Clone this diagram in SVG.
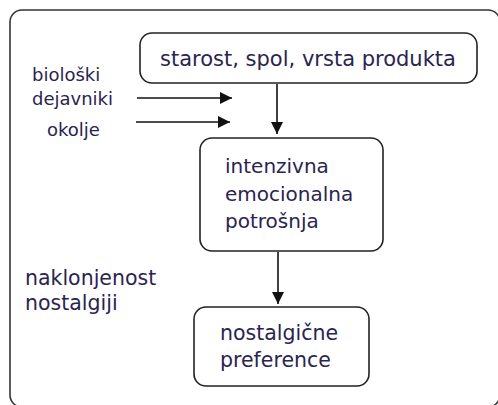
<svg xmlns="http://www.w3.org/2000/svg" width="498" height="405" viewBox="0 0 498 405">
  <defs>
    <marker id="arrow" viewBox="0 0 10 10" refX="10" refY="5" markerWidth="12" markerHeight="12" markerUnits="userSpaceOnUse" orient="auto">
      <path d="M0,0 L10,5 L0,10 Z" fill="#111"/>
    </marker>
    <style>
      .frame { fill: none; stroke: #333; stroke-width: 1.6; }
      .box { fill: #fff; stroke: #222; stroke-width: 1.6; }
      .lbl { font-family: "DejaVu Sans", Verdana, sans-serif; fill: #2a2450; }
      .edge { fill: none; stroke: #111; stroke-width: 1.6; marker-end: url(#arrow); }
    </style>
  </defs>
  <rect width="498" height="405" fill="#fff"/>
  <!-- outer frame, running past the right and bottom edges -->
  <rect class="frame" x="10" y="10" width="490" height="397" rx="12"/>

  <g id="connectors">
    <line class="edge" x1="137" y1="98" x2="232" y2="98"/>
    <line class="edge" x1="136" y1="122" x2="230" y2="122"/>
    <line class="edge" x1="277" y1="84" x2="277" y2="134"/>
    <line class="edge" x1="278" y1="252" x2="278" y2="304"/>
  </g>

  <g id="factors">
    <rect class="box" x="140" y="33" width="337" height="50" rx="12"/>
    <text class="lbl" x="160" y="66" font-size="21">starost, spol, vrsta produkta</text>
  </g>

  <g id="bio">
    <text class="lbl" x="32" y="81" font-size="18">biološki</text>
    <text class="lbl" x="32" y="105" font-size="18">dejavniki</text>
  </g>

  <g id="env">
    <text class="lbl" x="47" y="136" font-size="18">okolje</text>
  </g>

  <g id="consumption">
    <rect class="box" x="200" y="138" width="183" height="113" rx="12"/>
    <text class="lbl" x="225" y="173" font-size="20">intenzivna</text>
    <text class="lbl" x="225" y="201" font-size="20">emocionalna</text>
    <text class="lbl" x="225" y="228" font-size="20">potrošnja</text>
  </g>

  <g id="proneness">
    <text class="lbl" x="25" y="285" font-size="20.5">naklonjenost</text>
    <text class="lbl" x="25" y="310" font-size="20.5">nostalgiji</text>
  </g>

  <g id="preferences">
    <rect class="box" x="194" y="307" width="175" height="79" rx="12"/>
    <text class="lbl" x="220" y="340" font-size="20.5">nostalgične</text>
    <text class="lbl" x="220" y="367" font-size="20.5">preference</text>
  </g>
</svg>
